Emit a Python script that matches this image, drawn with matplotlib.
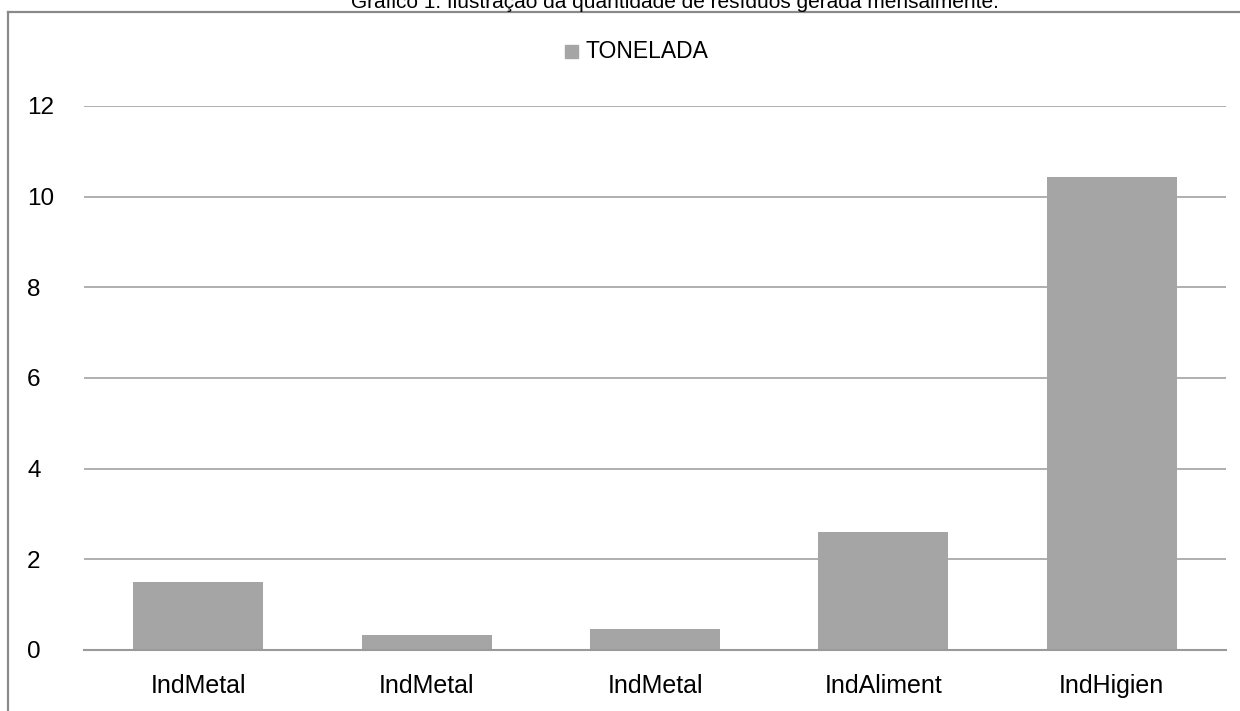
import matplotlib
matplotlib.use("Agg")
import matplotlib.pyplot as plt
from matplotlib.lines import Line2D
from matplotlib.patches import Rectangle
from matplotlib import font_manager

categories = ["IndMetal", "IndMetal", "IndMetal", "IndAliment", "IndHigien"]
toneladas = [1.5, 0.33, 0.46, 2.6, 10.43]
yticks = [0, 2, 4, 6, 8, 10, 12]
series_name = "TONELADA"
title = "Gráfico 1: Ilustração da quantidade de resíduos gerada mensalmente."

names = {f.name for f in font_manager.fontManager.ttflist}
base = "Liberation Sans" if "Liberation Sans" in names else "DejaVu Sans"
narrow = "Liberation Sans Narrow" if "Liberation Sans Narrow" in names else base
plt.rcParams["font.family"] = [base, "DejaVu Sans"]

W, H = 1240, 711
fig = plt.figure(figsize=(W / 100, H / 100), dpi=100)
ax = fig.add_axes([84 / W, (H - 650) / H, (1226 - 84) / W, (650 - 106) / H])

x = range(len(categories))
ax.bar(x, toneladas, width=0.57, color="#a5a5a5", zorder=3)

ax.set_xlim(-0.5, len(categories) - 0.5)
ax.set_ylim(0, 12)
ax.set_yticks(yticks)
ax.set_yticklabels([str(v) for v in yticks], fontsize=17.5, ha="left")
ax.tick_params(axis="y", length=0, pad=41)
ax.set_xticks(list(x))
ax.set_xticklabels(categories, fontsize=18)
ax.tick_params(axis="x", length=0, pad=17)
ax.yaxis.grid(True, color="#9a9a9a", linewidth=1.1, zorder=0)
for s in ["left", "right", "top"]:
    ax.spines[s].set_visible(False)
ax.spines["bottom"].set_color("#9a9a9a")
ax.spines["bottom"].set_linewidth(1.5)
ax.spines["bottom"].set_zorder(4)

# outer frame
fig.add_artist(Line2D([8 / W, 1.0], [1 - 12 / H, 1 - 12 / H], color="#8a8a8a", lw=1.6))
fig.add_artist(Line2D([8 / W, 8 / W], [1 - 12 / H, 0], color="#8a8a8a", lw=1.6))

# title, sitting right on the top edge of the frame
fig.text(675 / W, 1 - 8 / H, title, ha="center", va="baseline", fontsize=15)

# legend
fig.add_artist(Rectangle((565 / W, 1 - 58 / H), 13 / W, 13 / H, color="#a5a5a5",
                         transform=fig.transFigure))
fig.text(586 / W, 1 - 51 / H, series_name, ha="left", va="center", fontsize=16.5,
         family=[narrow, "DejaVu Sans"])

fig.savefig("out.png", dpi=100, facecolor="white")
